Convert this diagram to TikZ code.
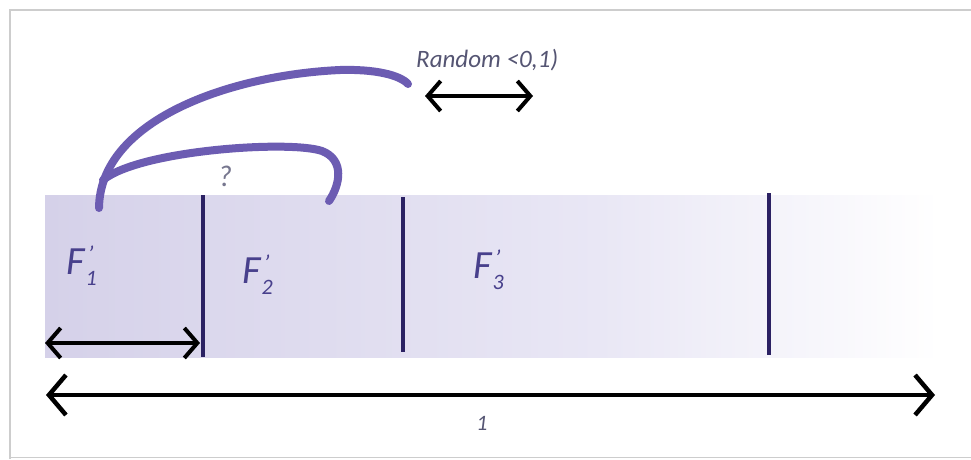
\documentclass[tikz,border=0pt]{standalone}
\usepackage{fontspec}
\setmainfont{Carlito}
\usetikzlibrary{arrows.meta}
\definecolor{bandL}{RGB}{213,209,233}
\definecolor{bandM}{RGB}{233,231,245}
\definecolor{curvecol}{RGB}{108,92,178}
\definecolor{divcol}{RGB}{43,33,99}
\definecolor{labcol}{RGB}{72,64,140}
\definecolor{txtcol}{RGB}{85,85,115}
\definecolor{framecol}{RGB}{205,205,205}
\newcommand{\Flab}[1]{\itshape F\kern1pt\rlap{\kern2pt\raisebox{0.3em}{\fontsize{24}{24}\selectfont '}}\raisebox{-0.28em}{\fontsize{22}{22}\selectfont #1}}
\tikzset{
  divider/.style={draw=divcol, line width=3.2pt},
  dimarrow/.style={draw=black, line width=4pt, {Straight Barb[length=13pt,width=30pt]}-{Straight Barb[length=13pt,width=30pt]}},
  bigarrow/.style={draw=black, line width=4.5pt, {Straight Barb[length=17pt,width=40pt]}-{Straight Barb[length=17pt,width=40pt]}},
  brush/.style={draw=curvecol, line width=8pt, line cap=round},
  flabel/.style={anchor=base west, text=labcol, font=\fontsize{40}{44}\selectfont, inner sep=0pt},
}
\begin{document}
\begin{tikzpicture}[x=1pt,y=-1pt]
\useasboundingbox (0,0) rectangle (971,459);
\fill[white] (0,0) rectangle (971,459);
% frame
\draw[framecol, line width=1.5pt] (10,459) -- (10,10) -- (971,10);
\draw[framecol, line width=1pt] (10,457) -- (971,457);
% band
\shade[left color=bandL, right color=bandM] (45,195) rectangle (600,357);
\shade[left color=bandM, right color=white] (599.5,195) rectangle (940,357);
% dividers
\coordinate (d1t) at (203,195); \coordinate (d1b) at (203,357);
\coordinate (d2t) at (403,197); \coordinate (d2b) at (403,352);
\coordinate (d3t) at (769,193); \coordinate (d3b) at (769,355);
\draw[divider] (d1t) -- (d1b);
\draw[divider] (d2t) -- (d2b);
\draw[divider] (d3t) -- (d3b);
% labels
\node[flabel] (f1) at (66,274) {\Flab{1}};
\node[flabel] (f2) at (242,283) {\Flab{2}};
\node[flabel] (f3) at (473,278) {\Flab{3}};
% small arrow
\coordinate (sa) at (45,343); \coordinate (sb) at (200,343);
\draw[dimarrow] (sa) -- (sb);
% big arrow
\coordinate (ba) at (46,395); \coordinate (bb) at (935,395);
\draw[bigarrow] (ba) -- (bb);
\node[text=txtcol, font=\itshape\fontsize{22}{24}\selectfont] (one) at (482,423) {1};
% random
\node[text=txtcol, font=\itshape\fontsize{25}{27}\selectfont, anchor=base west, inner sep=0pt] (rnd) at (416,67) {Random <0,1)};
\coordinate (ra) at (425,96); \coordinate (rb) at (533,96);
\draw[dimarrow] (ra) -- (rb);
% brush curves
\coordinate (c0) at (99,208);
\coordinate (c1) at (408,84);
\coordinate (c2) at (329,201);
\draw[brush] (c0) .. controls (100,120) and (230,75) .. (340,70) .. controls (375,69) and (400,75) .. (c1);
\draw[brush] (103,180) .. controls (140,150) and (290,140) .. (322,151) .. controls (345,160) and (340,185) .. (c2);
\node[text=txtcol!80, font=\itshape\fontsize{30}{32}\selectfont] (q) at (225,176) {?};
\end{tikzpicture}
\end{document}
